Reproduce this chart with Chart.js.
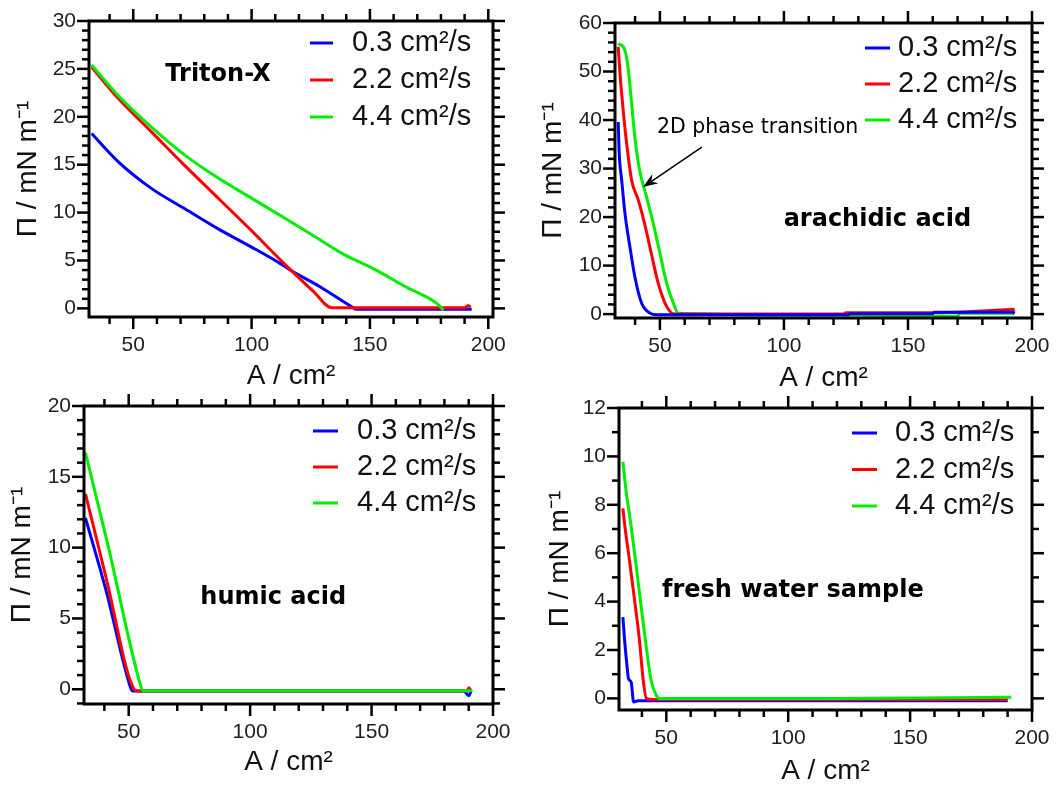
<!DOCTYPE html>
<html>
<head>
<meta charset="utf-8">
<script src="https://cdn.jsdelivr.net/npm/chart.js@4.4.0/dist/chart.umd.min.js"></script>
<style>
  html, body { margin: 0; padding: 0; background: #fff; }
  #wrap { position: relative; width: 1061px; height: 786px; }
  canvas { position: absolute; }
</style>
</head>
<body>
<div id="wrap">
  <canvas id="c1" width="530" height="393" style="left:0;top:0"></canvas>
  <canvas id="c2" width="531" height="393" style="left:530px;top:0"></canvas>
  <canvas id="c3" width="530" height="393" style="left:0;top:393px"></canvas>
  <canvas id="c4" width="531" height="393" style="left:530px;top:393px"></canvas>
</div>
<script>
// speeds (legend) and colours
const seriesLabels = ['0.3 cm²/s', '2.2 cm²/s', '4.4 cm²/s'];
const seriesColors = ['#0000ff', '#ff0000', '#00ee00'];

// Triton-X
const tritonA03 = [32.4, 43.7, 57.8, 71.8, 85.9, 100, 112, 116.3, 128.9, 142.3, 144.4, 170, 188, 193];
const tritonP03 = [18.25, 15.3, 12.5, 10.4, 8.3, 6.4, 4.7, 4.0, 2.26, 0.17, -0.1, -0.1, -0.1, -0.1];
const tritonA22 = [32.4, 43.7, 57.8, 71.8, 85.9, 100, 114.1, 126, 134, 160, 190, 191.5, 192.5];
const tritonP22 = [25.2, 21.9, 18.4, 14.9, 11.5, 8.1, 4.6, 1.8, 0.06, 0.06, 0.06, 0.3, 0.1];
const tritonA44 = [32.4, 43.7, 57.8, 71.8, 85.9, 100, 114.1, 126, 140, 151, 165.5, 179.6, 181];
const tritonP44 = [25.4, 22.2, 18.9, 16.0, 13.6, 11.5, 9.4, 7.6, 5.5, 4.2, 2.2, 0.24, -0.2];

// arachidic acid
const arachA03 = [33.2, 33.6, 34.6, 35.9, 37.9, 39.9, 42.6, 46, 48.7, 90, 126, 126.5, 160, 160.5, 192, 193];
const arachP03 = [39.6, 33.1, 27.6, 20.8, 13.9, 7.7, 2.3, 0.2, -0.14, -0.14, -0.14, 0.1, 0.1, 0.4, 0.4, 0.1];
const arachA22 = [33.2, 33.9, 35.2, 36.6, 38.6, 41.3, 43.8, 46.5, 49.3, 52.7, 56, 124, 125, 160, 175, 193];
const arachP22 = [55.1, 49.6, 42.0, 35.2, 27.6, 23.5, 18.7, 12.6, 6.4, 1.6, 0, 0, 0.3, 0.3, 0.5, 1.0];
const arachA44 = [33.2, 35.9, 37.3, 38.6, 39.9, 41.8, 44.6, 47.3, 50, 52.7, 55.4, 57.4, 126, 170, 171, 192, 193];
const arachP44 = [55.8, 54.4, 50.3, 43.4, 36.5, 29.7, 24.2, 18.7, 12.6, 6.4, 2.3, 0.2, -0.2, -0.45, 0.2, 0.2, 0.9];

// humic acid
const humicA03 = [32.2, 40.8, 50.8, 51.5, 140, 150, 188, 190, 191];
const humicP03 = [12.1, 6.9, 0.1, -0.12, -0.12, -0.12, -0.12, -0.45, -0.1];
const humicA22 = [32.2, 40.8, 52.2, 53.5, 189.5, 190, 191];
const humicP22 = [13.8, 7.8, 0.0, -0.12, -0.12, 0.1, -0.1];
const humicA44 = [32.2, 41.3, 54.9, 55.8, 191.5];
const humicP44 = [16.7, 10.3, 0.28, -0.1, -0.1];

// fresh water sample
const freshA03 = [32.2, 32.9, 33.8, 34.5, 35.6, 36.6, 38.4, 60, 100, 150, 190];
const freshP03 = [3.36, 2.4, 1.43, 0.81, 0.67, -0.15, -0.1, -0.1, -0.1, -0.1, -0.1];
const freshA22 = [32.2, 32.9, 34.9, 37, 39, 40.4, 41.8, 44.6, 150, 190];
const freshP22 = [7.85, 7.2, 5.7, 4.05, 2.4, 0.88, 0, -0.05, -0.05, -0.05];
const freshA44 = [32.2, 33.3, 35.6, 37.7, 39.7, 41.8, 43.8, 45.9, 47.3, 120, 191.5];
const freshP44 = [9.78, 8.74, 7.09, 5.43, 3.78, 2.12, 0.74, 0.12, 0, 0, 0.05];

const xTitle = 'A / cm²';
const yTitle = 'Π / mN m⁻¹';
const FONT = 'Liberation Sans';

const toPoints = (a, p) => a.map((v, i) => ({ x: v, y: p[i] }));

// draws frame, outward ticks on all four sides, the legend and the text notes
const framePlugin = {
  id: 'frame',
  afterDatasetsDraw(chart, args, o) {
    const { ctx, chartArea: a } = chart;
    const x = chart.scales.x, y = chart.scales.y;
    ctx.save();
    ctx.strokeStyle = '#000';
    ctx.lineWidth = 2.5;
    const seg = (x0, y0, x1, y1) => { ctx.beginPath(); ctx.moveTo(x0, y0); ctx.lineTo(x1, y1); ctx.stroke(); };

    for (let k = Math.ceil(x.min / o.xMinor); k * o.xMinor <= x.max + 1e-9; k++) {
      const v = k * o.xMinor;
      const len = Math.abs(v / o.xMajor - Math.round(v / o.xMajor)) < 1e-6 ? 12 : 7;
      const px = x.getPixelForValue(v);
      seg(px, a.bottom, px, a.bottom + len);
      seg(px, a.top, px, a.top - len);
    }
    for (let k = Math.ceil(y.min / o.yMinor); k * o.yMinor <= y.max + 1e-9; k++) {
      const v = k * o.yMinor;
      const len = Math.abs(v / o.yMajor - Math.round(v / o.yMajor)) < 1e-6 ? 12 : 7;
      const py = y.getPixelForValue(v);
      seg(a.left, py, a.left - len, py);
      seg(a.right, py, a.right + len, py);
    }
    ctx.lineWidth = 3;
    ctx.strokeRect(a.left, a.top, a.right - a.left, a.bottom - a.top);

    // legend in the top right corner
    ctx.font = '29px "' + FONT + '"';
    ctx.textBaseline = 'middle';
    ctx.textAlign = 'left';
    seriesLabels.forEach((lab, i) => {
      const ly = a.top + o.legend.row0 + i * o.legend.gap;
      ctx.strokeStyle = seriesColors[i];
      ctx.lineWidth = 3;
      seg(a.right - o.legend.line0, ly, a.right - o.legend.line1, ly);
      ctx.fillStyle = '#111';
      ctx.fillText(lab, a.right - o.legend.text, ly);
    });

    // notes
    (o.notes || []).forEach(n => {
      if (n.arrow) {
        const x0 = x.getPixelForValue(n.arrow[0]), y0 = y.getPixelForValue(n.arrow[1]);
        const x1 = x.getPixelForValue(n.arrow[2]), y1 = y.getPixelForValue(n.arrow[3]);
        const ang = Math.atan2(y1 - y0, x1 - x0);
        const c = Math.cos(ang), s = Math.sin(ang);
        ctx.strokeStyle = '#000';
        ctx.lineWidth = 1.5;
        seg(x0, y0, x1 - 8 * c, y1 - 8 * s);
        ctx.fillStyle = '#000';
        ctx.beginPath();
        ctx.moveTo(x1, y1);
        ctx.lineTo(x1 - 15 * c + 5.5 * s, y1 - 15 * s - 5.5 * c);
        ctx.lineTo(x1 - 10 * c, y1 - 10 * s);
        ctx.lineTo(x1 - 15 * c - 5.5 * s, y1 - 15 * s + 5.5 * c);
        ctx.closePath();
        ctx.fill();
        return;
      }
      ctx.font = n.font;
      ctx.fillStyle = '#000';
      ctx.textAlign = 'center';
      ctx.textBaseline = 'middle';
      ctx.fillText(n.text, x.getPixelForValue(n.x), y.getPixelForValue(n.y));
    });
    ctx.restore();
  }
};

function makePanel(p) {
  const datasets = p.series.map((s, i) => ({
    label: seriesLabels[i],
    data: toPoints(s[0], s[1]),
    borderColor: seriesColors[i],
    borderWidth: 3,
    pointRadius: 0,
    fill: false,
    cubicInterpolationMode: 'monotone',
    order: p.order[i]
  }));
  new Chart(document.getElementById(p.id), {
    type: 'line',
    data: { datasets },
    plugins: [framePlugin],
    options: {
      responsive: false,
      animation: false,
      devicePixelRatio: 1,
      layout: { padding: { left: 0, top: p.T, right: p.w - p.R, bottom: 0 } },
      plugins: {
        legend: { display: false },
        tooltip: { enabled: false },
        frame: { xMinor: 10, xMajor: 50, yMinor: p.yMinor, yMajor: p.yStep, legend: p.legend, notes: p.notes }
      },
      scales: {
        x: {
          type: 'linear',
          min: p.xMin, max: p.xMax,
          afterFit(s) { s.height = p.h - p.B; s.paddingLeft = 0; s.paddingRight = 0; },
          grid: { display: false, drawTicks: true, tickLength: 12 },
          border: { display: false },
          ticks: {
            stepSize: 50, includeBounds: false, autoSkip: false, maxRotation: 0,
            padding: 4, color: '#1e1e1e', font: { family: FONT, size: 21 }
          },
          title: {
            display: true, text: xTitle, color: '#111',
            font: { family: FONT, size: 28, lineHeight: 1 },
            padding: { top: 0, bottom: p.xTitlePad }
          }
        },
        y: {
          type: 'linear',
          min: p.yMin, max: p.yMax,
          afterFit(s) { s.width = p.L; s.paddingTop = 0; s.paddingBottom = 0; },
          grid: { display: false, drawTicks: true, tickLength: 12 },
          border: { display: false },
          ticks: {
            stepSize: p.yStep, includeBounds: false, autoSkip: false,
            padding: 1, color: '#1e1e1e', font: { family: FONT, size: 21 }
          },
          title: {
            display: true, text: yTitle, color: '#111',
            font: { family: FONT, size: 28, lineHeight: 1 },
            padding: { top: p.yTitlePad, bottom: 0 }
          }
        }
      }
    }
  });
}

const noteFont = 'bold 24px "DejaVu Sans"';

makePanel({
  id: 'c1', w: 530, h: 393, L: 89, T: 21, R: 493, B: 317,
  xMin: 31.3, xMax: 202, yMin: -0.9, yMax: 30, yStep: 5, yMinor: 1,
  yTitlePad: 14, xTitlePad: 3, order: [2, 1, 0],
  series: [[tritonA03, tritonP03], [tritonA22, tritonP22], [tritonA44, tritonP44]],
  legend: { row0: 22, gap: 37, line0: 183, line1: 160, text: 141 },
  notes: [{ text: 'Triton-X', x: 85.8, y: 24.4, font: noteFont }]
});

makePanel({
  id: 'c2', w: 531, h: 393, L: 85, T: 23, R: 502, B: 318,
  xMin: 31.9, xMax: 200, yMin: -0.8, yMax: 60, yStep: 10, yMinor: 2,
  yTitlePad: 9, xTitlePad: 1, order: [0, 1, 2],
  series: [[arachA03, arachP03], [arachA22, arachP22], [arachA44, arachP44]],
  legend: { row0: 25, gap: 36, line0: 167, line1: 142, text: 134 },
  notes: [
    { text: 'arachidic acid', x: 137.7, y: 19.4, font: noteFont },
    { text: '2D phase transition', x: 89.4, y: 38.5, font: '20.5px "DejaVu Sans"' },
    { arrow: [66.9, 34.4, 43.2, 26.2] }
  ]
});

makePanel({
  id: 'c3', w: 530, h: 393, L: 84, T: 13, R: 493, B: 311,
  xMin: 31.6, xMax: 200, yMin: -1.04, yMax: 20, yStep: 5, yMinor: 1,
  yTitlePad: 8, xTitlePad: 10, order: [2, 1, 0],
  series: [[humicA03, humicP03], [humicA22, humicP22], [humicA44, humicP44]],
  legend: { row0: 25, gap: 36, line0: 180, line1: 155, text: 136 },
  notes: [{ text: 'humic acid', x: 109.5, y: 6.44, font: noteFont }]
});

makePanel({
  id: 'c4', w: 531, h: 393, L: 89, T: 15, R: 502, B: 317,
  xMin: 30.6, xMax: 200, yMin: -0.48, yMax: 12, yStep: 2, yMinor: 1,
  yTitlePad: 16, xTitlePad: 1, order: [2, 1, 0],
  series: [[freshA03, freshP03], [freshA22, freshP22], [freshA44, freshP44]],
  legend: { row0: 25, gap: 36.5, line0: 180, line1: 155, text: 137 },
  notes: [{ text: 'fresh water sample', x: 101.9, y: 4.43, font: noteFont }]
});
</script>
</body>
</html>
